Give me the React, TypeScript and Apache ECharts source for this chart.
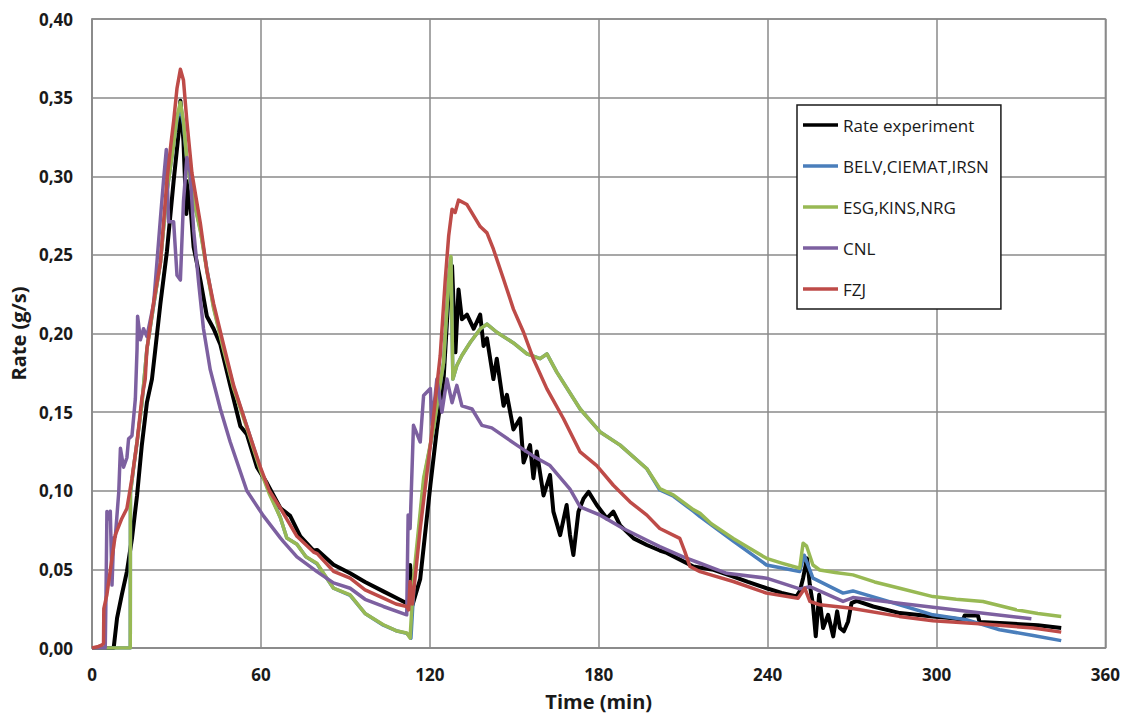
import React, { useEffect, useRef } from "react";
import * as echarts from "echarts";

const xTicks = [0, 60, 120, 180, 240, 300, 360];
const yMax = 0.4;
const yStep = 0.05;

const seriesNames = [
  "Rate experiment",
  "BELV,CIEMAT,IRSN",
  "ESG,KINS,NRG",
  "CNL",
  "FZJ",
];
const seriesColors = ["#000000", "#4A7EBB", "#98B954", "#7D60A0", "#BE4B48"];

const rateExperiment: number[][] = [
  [0, 0], [7.7, 0], [8.9, 0.019], [10.6, 0.034], [12.4, 0.0486], [14.2, 0.0697], [16, 0.097],
  [17.7, 0.129], [19.5, 0.156], [21.3, 0.171], [22.5, 0.19], [24.3, 0.219], [26.6, 0.252],
  [29, 0.297], [30.8, 0.328], [31.4, 0.348], [32.5, 0.322], [33.5, 0.276], [34.3, 0.297],
  [36.1, 0.255], [38.5, 0.234], [40.8, 0.211], [43.2, 0.203], [45.6, 0.193], [49.1, 0.167],
  [52.7, 0.141], [55, 0.136], [58.6, 0.115], [62.1, 0.105], [66.9, 0.089], [70.4, 0.084],
  [74, 0.071], [78.7, 0.062], [80, 0.0623], [85.8, 0.053], [91.7, 0.0475], [97, 0.042],
  [103.5, 0.036], [108, 0.032], [111.8, 0.0285], [112.5, 0.03], [113, 0.0528], [113.8, 0.027],
  [116.6, 0.044], [120.2, 0.1035], [122.5, 0.139], [124.9, 0.171], [126.7, 0.226], [127.9, 0.243],
  [129.1, 0.188], [130.2, 0.228], [131.4, 0.209], [133.2, 0.212], [135.6, 0.203], [137.9, 0.212],
  [139.1, 0.192], [140.3, 0.197], [142.6, 0.171], [143.8, 0.184], [146.2, 0.154], [147.4, 0.161],
  [149.7, 0.139], [152.1, 0.146], [153.3, 0.118], [155.6, 0.129], [156.8, 0.108], [158, 0.125],
  [160.4, 0.097], [162.7, 0.11], [163.9, 0.0867], [166.3, 0.0718], [168.6, 0.0909], [169.8, 0.0718],
  [171, 0.0592], [172.8, 0.0867], [174.6, 0.095], [176.4, 0.0993], [179.3, 0.0909], [182.9, 0.0824],
  [185.2, 0.0867], [187.6, 0.078], [192.4, 0.0697], [197.1, 0.0655], [201.7, 0.062], [204.2, 0.0605],
  [208, 0.057], [213.6, 0.0518], [220.8, 0.0497], [227.8, 0.0454], [233, 0.042], [239.6, 0.038],
  [245, 0.035], [250.3, 0.0328], [251.4, 0.036], [252.6, 0.0444], [254, 0.057], [255, 0.04],
  [256.1, 0.0275], [257.1, 0.0074], [258.3, 0.0338], [259.7, 0.0127], [261.5, 0.0211],
  [263.3, 0.0074], [264.7, 0.0233], [265.7, 0.0127], [267.1, 0.0106], [268.6, 0.0169],
  [269.8, 0.0285], [271.6, 0.03], [277.5, 0.0264], [287, 0.0222], [298.7, 0.0201], [305, 0.019],
  [309.4, 0.018], [310, 0.0207], [314.7, 0.0207], [315.3, 0.0165], [324.2, 0.0158], [336, 0.0144],
  [344.3, 0.0127],
];

const belvCiematIrsn: number[][] = [
  [0, 0], [13.6, 0], [13.65, 0.098], [14.8, 0.115], [16, 0.131], [17.7, 0.155], [19.5, 0.19],
  [21.9, 0.218], [24.3, 0.245], [26.6, 0.29], [29, 0.32], [30.2, 0.336], [31.4, 0.344],
  [32.5, 0.333], [33.7, 0.31], [35.5, 0.29], [38.5, 0.266], [40.8, 0.241], [43.2, 0.217],
  [46.7, 0.191], [50.3, 0.166], [55, 0.141], [59.8, 0.114], [63, 0.099], [66.9, 0.083],
  [69.2, 0.07], [72.8, 0.066], [76, 0.058], [79.9, 0.0535], [85.8, 0.038], [91.7, 0.0335],
  [97, 0.022], [103.5, 0.0145], [108, 0.011], [111.8, 0.0093], [113.3, 0.0063], [114.5, 0.044],
  [118, 0.108], [121.3, 0.1395], [124.9, 0.1817], [126.7, 0.2345], [127.5, 0.248], [128.2, 0.171],
  [129.6, 0.1796], [131.4, 0.186], [134.4, 0.1944], [137.9, 0.2029], [140.3, 0.206], [143.8, 0.2008],
  [149.7, 0.194], [154.5, 0.187], [159.2, 0.184], [161.6, 0.187], [165.1, 0.1754], [173.4, 0.152],
  [180.5, 0.1374], [187.6, 0.129], [197.1, 0.114], [201.7, 0.1005], [206.6, 0.0965], [213.6, 0.087],
  [216, 0.0835], [227.8, 0.068], [239.6, 0.0528], [251.4, 0.0486], [253, 0.059], [256.1, 0.0444],
  [266.8, 0.0349], [270.3, 0.0363], [286.9, 0.0275], [298.7, 0.0211], [310.6, 0.018],
  [322.4, 0.0116], [334.3, 0.008], [344.3, 0.0047],
];

const esgKinsNrg: number[][] = [
  [0, 0], [13.6, 0], [13.65, 0.099], [14.8, 0.115], [16, 0.131], [17.7, 0.155], [19.5, 0.19],
  [21.9, 0.218], [24.3, 0.245], [26.6, 0.29], [29, 0.32], [30.2, 0.338], [31.4, 0.347],
  [32.5, 0.335], [33.7, 0.31], [35.5, 0.29], [38.5, 0.265], [40.8, 0.24], [43.2, 0.216],
  [46.7, 0.19], [50.3, 0.165], [55, 0.14], [59.8, 0.113], [63, 0.098], [66.9, 0.083],
  [69.2, 0.07], [72.8, 0.066], [76, 0.058], [79.9, 0.0539], [85.8, 0.038], [91.7, 0.0338],
  [97, 0.022], [103.5, 0.0148], [108, 0.011], [111.8, 0.0095], [113, 0.0063], [114.2, 0.044],
  [117.8, 0.108], [121.3, 0.1395], [124.9, 0.1817], [126.7, 0.2345], [127.5, 0.249], [128.2, 0.171],
  [129.6, 0.1796], [131.4, 0.186], [134.4, 0.1944], [137.9, 0.2029], [140.3, 0.206], [143.8, 0.2008],
  [149.7, 0.194], [154.5, 0.187], [159.2, 0.184], [161.6, 0.187], [165.1, 0.1754], [173.4, 0.152],
  [180.5, 0.1374], [187.6, 0.129], [197.1, 0.114], [201.7, 0.1014], [206.6, 0.0972], [213.6, 0.088],
  [216, 0.0856], [220, 0.079], [227.8, 0.0697], [233, 0.064], [239.6, 0.057], [245, 0.054],
  [251.4, 0.0507], [252.6, 0.0666], [253.8, 0.065], [256.1, 0.0528], [258.5, 0.0496], [264, 0.048],
  [270.3, 0.0465], [278, 0.042], [286.9, 0.038], [298.7, 0.0327], [307, 0.031], [316.5, 0.0296],
  [328.3, 0.0243], [336, 0.022], [344.3, 0.0201],
];

const cnl: number[][] = [
  [0, 0], [4.7, 0], [5.0, 0.0376], [5.3, 0.0868], [5.9, 0.082], [6.5, 0.087], [7.1, 0.04],
  [7.7, 0.07], [8.3, 0.071], [9.5, 0.099], [10.1, 0.127], [11.2, 0.115], [12.4, 0.121],
  [13, 0.133], [14.2, 0.135], [15.4, 0.1585], [16, 0.19], [16.2, 0.211], [17.2, 0.196],
  [18.3, 0.203], [19.5, 0.198], [21.9, 0.219], [24.3, 0.273], [25.4, 0.297], [26.4, 0.317],
  [27.2, 0.271], [29, 0.271], [30.2, 0.237], [31.4, 0.234], [32.5, 0.284], [33.7, 0.312],
  [34.9, 0.302], [36.1, 0.266], [37.9, 0.232], [39.6, 0.203], [42, 0.177], [45.6, 0.152],
  [49.1, 0.131], [55, 0.1], [60.9, 0.084], [66.9, 0.07], [68, 0.0676], [72.8, 0.058],
  [79.9, 0.0486], [85.8, 0.0414], [91.7, 0.038], [97, 0.031], [103.5, 0.0264], [111.8, 0.0211],
  [112, 0.0211], [112.3, 0.0845], [113, 0.076], [114.2, 0.1416], [116.6, 0.131], [117.8, 0.1606],
  [120.2, 0.165], [120.8, 0.142], [122.5, 0.171], [124.3, 0.15], [126.1, 0.171], [127.9, 0.156],
  [129.6, 0.167], [131.4, 0.154], [135, 0.152], [138.5, 0.1416], [142, 0.14], [150.9, 0.129],
  [156.8, 0.122], [162.7, 0.116], [169.8, 0.101], [173.4, 0.0898], [180.5, 0.0845], [188.7, 0.076],
  [198.2, 0.0676], [201.7, 0.0645], [210, 0.058], [216, 0.0539], [225.5, 0.0475], [239.6, 0.0444],
  [251.4, 0.0376], [255, 0.039], [266.8, 0.0296], [270.3, 0.0321], [286.8, 0.0285],
  [310.6, 0.0233], [333.7, 0.0186],
];

const fzj: number[][] = [
  [0, 0], [2.3, 0.001], [3.6, 0.002], [4.1, 0.003], [4.2, 0.025], [5.3, 0.034], [7.1, 0.057],
  [8.3, 0.072], [10.6, 0.0824], [12.4, 0.0887], [14.2, 0.108], [16, 0.131], [17.7, 0.1585],
  [18.9, 0.171], [19.5, 0.19], [21.9, 0.22], [24.3, 0.245], [26.6, 0.297], [28, 0.32],
  [29, 0.335], [30.2, 0.356], [31.4, 0.368], [32.5, 0.361], [33.7, 0.335], [35.5, 0.302],
  [38.5, 0.27], [40.8, 0.24], [43.2, 0.219], [46.7, 0.193], [50.3, 0.167], [55, 0.141],
  [59.8, 0.115], [63, 0.1], [66.9, 0.089], [68, 0.0856], [72.8, 0.071], [78.7, 0.061], [80, 0.06],
  [85.8, 0.0488], [91.7, 0.0444], [97, 0.037], [103.5, 0.0317], [108, 0.028], [111.8, 0.0264],
  [112.5, 0.0243], [113, 0.0423], [113.8, 0.028], [116.6, 0.076], [120.2, 0.129], [123.7, 0.186],
  [125.5, 0.2345], [126.7, 0.262], [127.9, 0.279], [129, 0.277], [130.2, 0.2848], [133.2, 0.282],
  [137.9, 0.268], [140.3, 0.264], [142.6, 0.2536], [146.2, 0.2345], [149.7, 0.2155],
  [153.3, 0.2008], [156.8, 0.1838], [161.6, 0.1648], [167.5, 0.1458], [173.4, 0.1247],
  [179.3, 0.116], [185.2, 0.1035], [191.1, 0.093], [197.1, 0.0845], [201.7, 0.076],
  [208.8, 0.0697], [210.6, 0.0613], [212.4, 0.0518], [216, 0.0486], [220.7, 0.046],
  [227.8, 0.0423], [239.6, 0.0349], [250.8, 0.0317], [253.2, 0.038], [255, 0.0296],
  [258.5, 0.0275], [269.1, 0.0254], [286.8, 0.0201], [298.7, 0.0173], [316.5, 0.0152],
  [334.3, 0.0127], [344.3, 0.0101],
];

const seriesData = [rateExperiment, belvCiematIrsn, esgKinsNrg, cnl, fzj];
const seriesWidths = [4, 3.5, 3.5, 3.5, 3.5];

const FONT = "'Open Sans', 'Noto Sans', sans-serif";
const GRID_COLOR = "#8a8a8a";

export default function App() {
  const ref = useRef<HTMLDivElement>(null);

  useEffect(() => {
    if (!ref.current) return;
    const chart = echarts.init(ref.current, undefined, { renderer: "svg" });
    chart.setOption({
      animation: false,
      backgroundColor: "#ffffff",
      textStyle: { fontFamily: FONT },
      grid: {
        left: 92,
        top: 19,
        right: 17,
        bottom: 66,
        show: true,
        borderColor: GRID_COLOR,
        borderWidth: 1.5,
        containLabel: false,
      },
      legend: {
        orient: "vertical",
        left: 797,
        top: 105,
        padding: [10, 12, 10, 6],
        itemWidth: 35,
        itemHeight: 3.5,
        itemGap: 21,
        icon: "rect",
        borderColor: "#1a1a1a",
        borderWidth: 1.5,
        backgroundColor: "#ffffff",
        textStyle: {
          fontFamily: FONT,
          fontSize: 17,
          lineHeight: 20,
          color: "#1a1a1a",
        },
        data: seriesNames,
      },
      xAxis: {
        type: "value",
        min: xTicks[0],
        max: xTicks[xTicks.length - 1],
        interval: 60,
        name: "Time (min)",
        nameLocation: "middle",
        nameGap: 43,
        nameTextStyle: { fontFamily: FONT, fontSize: 20, fontWeight: "bold", color: "#1a1a1a" },
        axisLine: { show: true, lineStyle: { color: GRID_COLOR, width: 1.5 } },
        axisTick: { show: false },
        axisLabel: {
          margin: 18,
          fontFamily: FONT,
          fontSize: 17,
          fontWeight: "bold",
          color: "#1a1a1a",
        },
        splitLine: { show: true, lineStyle: { color: GRID_COLOR, width: 1.5 } },
      },
      yAxis: {
        type: "value",
        min: 0,
        max: yMax,
        interval: yStep,
        name: "Rate (g/s)",
        nameLocation: "middle",
        nameGap: 60,
        nameTextStyle: { fontFamily: FONT, fontSize: 20, fontWeight: "bold", color: "#1a1a1a" },
        axisLine: { show: true, lineStyle: { color: GRID_COLOR, width: 1.5 } },
        axisTick: { show: false },
        axisLabel: {
          margin: 19,
          fontFamily: FONT,
          fontSize: 17,
          fontWeight: "bold",
          color: "#1a1a1a",
          formatter: (v: number) => v.toFixed(2).replace(".", ","),
        },
        splitLine: { show: true, lineStyle: { color: GRID_COLOR, width: 1.5 } },
      },
      series: seriesNames.map((name, i) => ({
        name,
        type: "line",
        data: seriesData[i],
        symbol: "none",
        showSymbol: false,
        smooth: false,
        color: seriesColors[i],
        lineStyle: { color: seriesColors[i], width: seriesWidths[i], join: "round" },
        z: 2 + i,
      })),
    });
    return () => chart.dispose();
  }, []);

  return (
    <div
      ref={ref}
      style={{ position: "absolute", left: 0, top: 0, width: 1123, height: 716 }}
    />
  );
}
